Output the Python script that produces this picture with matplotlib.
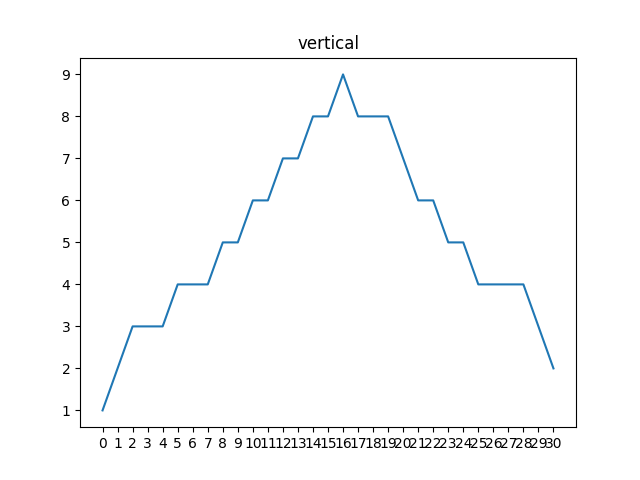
import matplotlib
matplotlib.use('Agg')
import matplotlib.pyplot as plt

x = list(range(31))
y = [1, 2, 3, 3, 3, 4, 4, 4, 5, 5, 6, 6, 7, 7, 8, 8, 9, 8, 8, 8, 7, 6, 6, 5, 5, 4, 4, 4, 4, 3, 2]

plt.plot(x, y)
plt.xticks(x)
plt.title('vertical')
plt.savefig('out.png')
